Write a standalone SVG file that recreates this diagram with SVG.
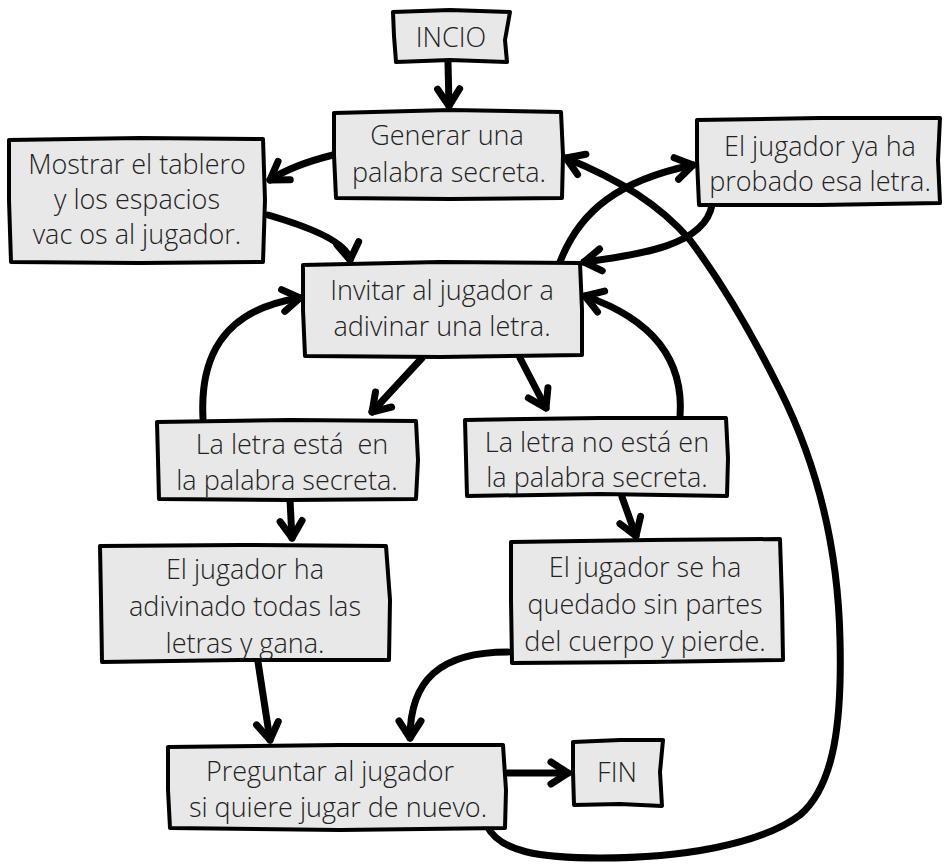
<svg xmlns="http://www.w3.org/2000/svg" width="945" height="864" viewBox="0 0 945 864">
<style>
.box{fill:#e8e8e8;stroke:#000;stroke-width:4;stroke-linejoin:round}
.t{font-family:"Open Sans","Liberation Sans",sans-serif;font-weight:300;font-size:27px;fill:#222;text-anchor:middle}
.c{fill:none;stroke:#000;stroke-width:7;stroke-linecap:round;stroke-linejoin:round}
</style>
<defs>
<marker id="ah" viewBox="0 0 30 30" markerWidth="30" markerHeight="30" refX="25" refY="15" orient="auto" markerUnits="userSpaceOnUse">
<path d="M8,4 L25,15 L8,26" fill="none" stroke="#000" stroke-width="7" stroke-linecap="round" stroke-linejoin="round"/>
</marker>
</defs>
<rect width="945" height="864" fill="#fff"/>
<g id="connectors">
<path class="c" marker-end="url(#ah)" d="M448,62 L449,106"/>
<path class="c" marker-end="url(#ah)" d="M333,155 C305,162 285,170 270,180"/>
<path class="c" marker-end="url(#ah)" d="M268,215 C320,230 348,245 350,260"/>
<path class="c" marker-end="url(#ah)" d="M560,262 C580,210 620,180 693,165"/>
<path class="c" marker-end="url(#ah)" d="M712,205 C705,245 640,255 584,262"/>
<path class="c" marker-end="url(#ah)" d="M487,826 C500,852 540,858 600,858 C680,858 760,845 800,815 C835,785 842,720 840,640 C838,540 815,460 780,390 C750,330 720,280 690,240 C660,205 620,180 566,158"/>
<path class="c" marker-end="url(#ah)" d="M422,358 L372,412"/>
<path class="c" marker-end="url(#ah)" d="M520,358 L546,408"/>
<path class="c" marker-end="url(#ah)" d="M203,418 C200,360 220,310 300,298"/>
<path class="c" marker-end="url(#ah)" d="M680,417 C685,350 640,315 585,296"/>
<path class="c" marker-end="url(#ah)" d="M290,500 L292,538"/>
<path class="c" marker-end="url(#ah)" d="M622,497 L636,536"/>
<path class="c" marker-end="url(#ah)" d="M258,662 L270,740"/>
<path class="c" marker-end="url(#ah)" d="M508,652 C440,652 410,680 410,738"/>
<path class="c" marker-end="url(#ah)" d="M508,773 L568,773"/>
</g>
<g id="inicio">
<path class="box" d="M393,12 L450,10 L510,12 L505,40 L507,62 L450,60 L396,62 L394,36 Z"/>
<text class="t" x="451" y="47" font-size="25">INCIO</text>
</g>
<g id="generar">
<path class="box" d="M334,113 L450,110 L561,112 L563,155 L562,198 L450,199 L336,198 L334,155 Z"/>
<text class="t" x="447" y="145">Generar una</text>
<text class="t" x="449" y="182">palabra secreta.</text>
</g>
<g id="mostrar">
<path class="box" d="M9,140 L140,138 L263,139 L265,200 L263,262 L140,263 L11,262 L9,200 Z"/>
<text class="t" x="137" y="174">Mostrar el tablero</text>
<text class="t" x="137" y="209">y los espacios</text>
<text class="t" x="137" y="244">vac os al jugador.</text>
</g>
<g id="probado">
<path class="box" d="M697,120 L820,118 L940,118 L938,160 L940,203 L820,205 L699,205 L697,160 Z"/>
<text class="t" x="820" y="156">El jugador ya ha</text>
<text class="t" x="820" y="191">probado esa letra.</text>
</g>
<g id="invitar">
<path class="box" d="M303,265 L440,262 L580,263 L582,310 L582,355 L440,357 L305,356 L303,310 Z"/>
<text class="t" x="442" y="300">Invitar al jugador a</text>
<text class="t" x="442" y="336">adivinar una letra.</text>
</g>
<g id="esta">
<path class="box" d="M157,422 L290,420 L416,421 L418,460 L416,499 L290,500 L159,499 L158,460 Z"/>
<text class="t" x="292" y="454" xml:space="preserve">La letra está  en</text>
<text class="t" x="287" y="490">la palabra secreta.</text>
</g>
<g id="noesta">
<path class="box" d="M465,420 L600,418 L726,418 L728,458 L727,496 L600,494 L467,496 L466,458 Z"/>
<text class="t" x="597" y="452">La letra no está en</text>
<text class="t" x="597" y="487">la palabra secreta.</text>
</g>
<g id="gana">
<path class="box" d="M100,546 L240,545 L386,546 L390,600 L389,660 L240,660 L102,662 L101,600 Z"/>
<text class="t" x="245" y="579">El jugador ha</text>
<text class="t" x="245" y="616">adivinado todas las</text>
<text class="t" x="245" y="653">letras y gana.</text>
</g>
<g id="pierde">
<path class="box" d="M511,542 L650,540 L780,539 L782,600 L783,660 L650,662 L512,663 L511,600 Z"/>
<text class="t" x="645" y="577">El jugador se ha</text>
<text class="t" x="645" y="614">quedado sin partes</text>
<text class="t" x="645" y="651">del cuerpo y pierde.</text>
</g>
<g id="preguntar">
<path class="box" d="M168,747 L340,745 L503,745 L506,790 L505,828 L340,830 L170,828 L168,790 Z"/>
<text class="t" x="330" y="781">Preguntar al jugador</text>
<text class="t" x="338" y="817">si quiere jugar de nuevo.</text>
</g>
<g id="fin">
<path class="box" d="M573,742 L620,740 L663,740 L660,772 L662,806 L620,804 L574,805 L573,772 Z"/>
<text class="t" x="617" y="782" font-size="25">FIN</text>
</g>
</svg>
